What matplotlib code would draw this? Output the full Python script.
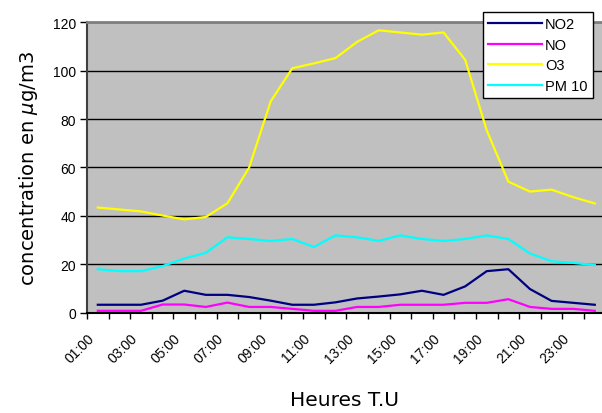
import numpy as np
import matplotlib.pyplot as plt
import matplotlib.transforms as mtransforms

hours = ["01:00", "02:00", "03:00", "04:00", "05:00", "06:00", "07:00", "08:00",
         "09:00", "10:00", "11:00", "12:00", "13:00", "14:00", "15:00", "16:00",
         "17:00", "18:00", "19:00", "20:00", "21:00", "22:00", "23:00", "24:00"]

no2 = [3.2, 3.2, 3.2, 4.9, 9.0, 7.3, 7.3, 6.4, 4.9, 3.2, 3.2, 4.2,
       5.8, 6.6, 7.5, 9.0, 7.3, 10.8, 17.1, 17.9, 9.7, 4.8, 4.0, 3.2]
no = [0.7, 0.7, 0.7, 3.3, 3.3, 2.3, 4.1, 2.3, 2.3, 1.5, 0.7, 0.7,
      2.3, 2.3, 3.2, 3.2, 3.2, 4.0, 4.0, 5.5, 2.3, 1.5, 1.5, 0.7]
o3 = [43.4, 42.6, 41.8, 40.1, 38.5, 39.5, 45.2, 59.9, 87.3, 101.0, 103.0, 105.2,
      111.9, 116.7, 115.8, 114.9, 115.8, 104.5, 75.3, 54.1, 50.0, 50.8, 47.7, 45.1]
pm10 = [17.9, 17.1, 17.1, 19.2, 22.3, 24.7, 31.1, 30.4, 29.6, 30.4, 27.1, 31.9,
        31.1, 29.6, 31.9, 30.4, 29.6, 30.4, 31.9, 30.4, 24.4, 21.2, 20.5, 19.6]

series = [("NO2", no2, "#000080"), ("NO", no, "#FF00FF"),
          ("O3", o3, "#FFFF00"), ("PM 10", pm10, "#00FFFF")]

W, H = 602, 414
fig = plt.figure(figsize=(W / 100, H / 100), dpi=100)
ax = fig.add_axes([87 / W, 1 - 313.5 / H, (605.6 - 87) / W, 290.2 / H])
ax.set_facecolor("#C0C0C0")

x = np.arange(len(hours))
for name, vals, col in series:
    ax.plot(x, vals, color=col, lw=1.6, label=name)

ax.set_xlim(-0.5, len(hours) - 0.5)
ax.set_ylim(0, 120)
ax.set_yticks(range(0, 121, 20))
ax.yaxis.grid(True, color="black", lw=1)
ax.set_axisbelow(True)

# ticks on the category boundaries, a label on every other one
bounds = np.arange(len(hours) + 1) - 0.5
ax.set_xticks(bounds)
ax.set_xticklabels([hours[i] if i % 2 == 0 and i < len(hours) else "" for i in range(len(bounds))],
                   rotation=45, ha="right", rotation_mode="anchor",
                   fontfamily="Liberation Sans", fontsize=10)
shift = mtransforms.ScaledTranslation(-6 / 100, 0, fig.dpi_scale_trans)
for lab in ax.get_xticklabels():
    lab.set_transform(lab.get_transform() + shift)
ax.tick_params(axis="x", length=4, width=1, pad=9)
ax.tick_params(axis="y", length=5, width=1, labelsize=10, pad=3)
for lab in ax.get_yticklabels():
    lab.set_fontfamily("Liberation Sans")

ax.spines["top"].set_color("#808080")
ax.spines["top"].set_linewidth(2)
ax.spines["right"].set_visible(False)
ax.spines["left"].set_color("#404040")
ax.spines["left"].set_linewidth(1.5)
ax.spines["bottom"].set_color("black")
ax.spines["bottom"].set_linewidth(1.5)

ax.set_ylabel("concentration en $\\mu$g/m3", fontsize=14, labelpad=9)
fig.text(345 / W, 1 - 401 / H, "Heures T.U", fontsize=14.5, ha="center", va="center")

leg = fig.legend(loc="upper left", bbox_to_anchor=(483 / W, 1 - 13 / H),
                 frameon=True, fancybox=False, edgecolor="black", framealpha=1,
                 prop={"family": "Liberation Sans", "size": 10.5},
                 handlelength=3.7, handletextpad=0.2, labelspacing=0.45,
                 borderpad=0.35, borderaxespad=0)
leg.get_frame().set_linewidth(1)

fig.savefig("out.png", dpi=100)
